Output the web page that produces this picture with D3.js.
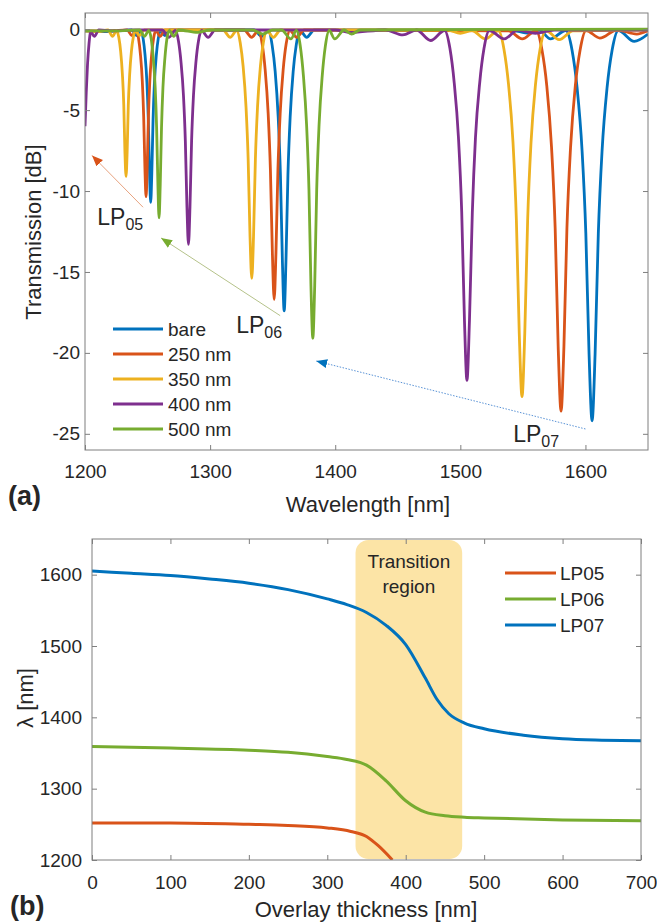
<!DOCTYPE html>
<html lang="en">
<head>
<meta charset="UTF-8">
<title>LPG spectra and resonance shift</title>
<style>
  body { margin: 0; background: #fff; }
  text { font-family: "Liberation Sans", Arial, sans-serif; fill: #262626; }
</style>
</head>
<body>
<svg id="svg" width="657" height="923"></svg>
<script src="https://d3js.org/d3.v7.min.js"></script>
<script>
// ---------- DATA ----------
// panel (a): transmission spectra, [wavelength nm, dB]
const bare = [
  [1200,-0.1],[1215,-0.15],[1237.5,-0.05],[1241.2,-0.4],[1244.6,-0.08],[1246.5,-0.6],[1248.0,-1.6],[1249.5,-3.3],[1250.6,-5.6],[1251.6,-8.9],[1252.5,-10.7],[1253.4,-8.9],[1254.4,-5.6],[1255.5,-3.3],[1257.0,-1.6],[1258.5,-0.6],[1260.4,-0.08],[1263.8,-0.4],[1267.5,-0.05],
  [1335.2,-0.05],[1341.2,-0.45],[1346.6,-0.08],[1349.6,-1.0],[1352.0,-2.6],[1354.4,-5.4],[1356.2,-9.0],[1357.8,-14.4],[1359.2,-17.4],[1360.6,-14.4],[1362.2,-9.0],[1364.0,-5.4],[1366.4,-2.6],[1368.8,-1.0],[1371.8,-0.08],[1377.2,-0.5],[1383.2,-0.05],
  [1540,-0.05],[1555,-0.25],[1563,-0.05],[1572,-0.6],[1584.3,-0.08],[1589.3,-1.3],[1593.3,-3.6],[1597.3,-7.5],[1600.3,-12.6],[1602.9,-20.1],[1605.3,-24.2],[1607.7,-20.1],[1610.3,-12.6],[1613.3,-7.5],[1617.3,-3.6],[1621.3,-1.3],[1626.3,-0.08],[1639,-0.75],[1650,-0.3]
]
const nm250 = [
  [1200,-0.1],[1220,-0.1],[1233.8,-0.05],[1237.5,-0.4],[1240.9,-0.08],[1242.8,-0.57],[1244.3,-1.55],[1245.8,-3.2],[1246.9,-5.4],[1247.9,-8.6],[1248.8,-10.35],[1249.7,-8.6],[1250.7,-5.4],[1251.8,-3.2],[1253.3,-1.55],[1254.8,-0.57],[1256.7,-0.08],[1260.1,-0.45],[1263.8,-0.05],
  [1327.2,-0.05],[1333.2,-0.5],[1338.6,-0.08],[1341.6,-0.9],[1344.0,-2.5],[1346.4,-5.2],[1348.2,-8.7],[1349.8,-13.9],[1351.2,-16.7],[1352.6,-13.9],[1354.2,-8.7],[1356.0,-5.2],[1358.4,-2.5],[1360.8,-0.9],[1363.8,-0.08],[1369.2,-0.5],[1375.2,-0.05],
  [1538.5,-0.1],[1549.5,-0.6],[1560.5,-0.08],[1565.3,-1.3],[1569.1,-3.5],[1572.9,-7.3],[1575.8,-12.3],[1578.2,-19.6],[1580.5,-23.6],[1582.8,-19.6],[1585.2,-12.3],[1588.1,-7.3],[1591.9,-3.5],[1595.7,-1.3],[1600.5,-0.08],[1611.5,-0.55],[1625,-0.05],[1641,-0.3],[1650,-0.1]
]
const nm350 = [
  [1200,-0.1],[1210,-0.15],[1218.4,-0.05],[1222.0,-0.45],[1225.2,-0.08],[1227.0,-0.5],[1228.5,-1.37],[1229.9,-2.8],[1231.0,-4.7],[1231.9,-7.55],[1232.8,-9.1],[1233.7,-7.55],[1234.6,-4.7],[1235.7,-2.8],[1237.1,-1.37],[1238.6,-0.5],[1240.4,-0.08],[1243.6,-0.4],[1247.2,-0.05],
  [1300,-0.05],[1310.3,-0.05],[1316.0,-0.5],[1321.2,-0.08],[1324.1,-0.85],[1326.4,-2.3],[1328.7,-4.8],[1330.4,-8.0],[1331.9,-12.8],[1333.3,-15.4],[1334.7,-12.8],[1336.2,-8.0],[1337.9,-4.8],[1340.2,-2.3],[1342.5,-0.85],[1345.4,-0.08],[1350.6,-0.5],[1356.3,-0.05],
  [1490,-0.05],[1500,-0.25],[1509.3,-0.08],[1520,-0.6],[1530.3,-0.08],[1534.9,-1.25],[1538.5,-3.4],[1542.1,-7.0],[1544.8,-11.8],[1547.1,-18.8],[1549.3,-22.7],[1551.5,-18.8],[1553.8,-11.8],[1556.5,-7.0],[1560.1,-3.4],[1563.7,-1.25],[1568.3,-0.08],[1579,-0.65],[1590,-0.1],[1650,-0.05]
]
const nm400 = [
  [1200,-6.0],[1201,-3.9],[1202,-2.2],[1203.2,-0.9],[1204.6,-0.15],[1207.5,-0.45],[1211,-0.05],[1222,-0.1],[1240,-0.05],
  [1261.7,-0.05],[1267.2,-0.5],[1272.2,-0.08],[1274.7,-0.73],[1276.7,-2.0],[1278.7,-4.1],[1280.2,-6.9],[1281.5,-11.0],[1282.7,-13.3],[1283.9,-11.0],[1285.2,-6.9],[1286.7,-4.1],[1288.7,-2.0],[1290.7,-0.73],[1293.2,-0.08],[1298.4,-0.5],[1304,-0.05],
  [1400,-0.05],[1412,-0.2],[1440,-0.05],[1454,-0.35],[1465,-0.05],[1476.3,-0.7],[1487.4,-0.08],[1491.7,-1.2],[1495.1,-3.3],[1498.5,-6.7],[1501.1,-11.3],[1503.3,-18.0],[1505.3,-21.7],[1507.3,-18.0],[1509.6,-11.3],[1512.1,-6.7],[1515.5,-3.3],[1518.9,-1.2],[1523.2,-0.08],[1535,-0.6],[1546,-0.05],[1560,-0.25],[1575,-0.05],[1650,-0.05]
]
const nm500 = [
  [1200,-0.1],[1225,-0.1],[1243.6,-0.05],[1247.5,-0.45],[1251.0,-0.08],[1253.0,-0.64],[1254.5,-1.75],[1256.1,-3.6],[1257.25,-6.1],[1258.3,-9.7],[1259.2,-11.65],[1260.1,-9.7],[1261.15,-6.1],[1262.3,-3.6],[1263.9,-1.75],[1265.4,-0.64],[1267.4,-0.08],[1270.9,-0.45],[1274.8,-0.05],[1290,-0.2],[1300,-0.05],
  [1334,-0.05],[1342,-0.3],[1350,-0.05],[1357.1,-0.05],[1364.6,-0.6],[1369.0,-0.08],[1372.1,-1.05],[1374.6,-2.9],[1377.1,-5.9],[1379.0,-9.9],[1380.6,-15.85],[1382.1,-19.1],[1383.6,-15.85],[1385.2,-9.9],[1387.1,-5.9],[1389.6,-2.9],[1392.1,-1.05],[1395.2,-0.08],[1399.6,-0.6],[1407.1,-0.05],[1413,-0.3],[1420,-0.05],[1650,0]
]
const spectraNames = ['bare', '250 nm', '350 nm', '400 nm', '500 nm']
const spectraValues = [bare, nm250, nm350, nm400, nm500]
const spectraColors = ['#0072BD', '#D95319', '#EDB120', '#7E2F8E', '#77AC30']
const wlTicks = [1200, 1300, 1400, 1500, 1600]
const dbTicks = [0, -5, -10, -15, -20, -25]

// panel (b): resonance wavelength vs overlay thickness, [thickness nm, lambda nm]
const lp05 = [[0,1252],[100,1252],[200,1250],[250,1248.5],[300,1245],[330,1240],[350,1233],[365,1220],[383,1200]]
const lp06 = [[0,1359],[100,1357],[200,1354],[250,1351],[300,1345],[325,1341],[350,1333],[375,1311],[400,1283],[425,1267],[450,1262],[475,1260],[500,1259],[600,1256],[700,1255]]
const lp07 = [[0,1605],[50,1602],[100,1599],[150,1594],[200,1588],[250,1579],[300,1566],[325,1558],[350,1547],[375,1529],[400,1502],[425,1455],[440,1425],[455,1405],[475,1392],[500,1384],[550,1375],[600,1370],[650,1368],[700,1367]]
const modeNames = ['LP05', 'LP06', 'LP07']
const modeValues = [lp05, lp06, lp07]
const modeColors = ['#D95319', '#77AC30', '#0072BD']
const transitionRange = [336, 472]
const thickTicks = [0, 100, 200, 300, 400, 500, 600, 700]
const lambdaTicks = [1200, 1300, 1400, 1500, 1600]

// ---------- LAYOUT ----------
const axisGray = '#7f7f7f'
const boxA = { left: 85, top: 13, right: 648, bottom: 450 }
const boxB = { left: 92, top: 539, right: 641, bottom: 860 }

const svg = d3.select('#svg')

function drawFrame(g, box, x, y, xTicks, yTicks, xPad, yPad) {
  const w = box.right - box.left, h = box.bottom - box.top
  const fmt = d => String(d)
  g.append('g').attr('transform', `translate(0,${h})`)
    .call(d3.axisBottom(x).tickValues(xTicks).tickSize(-5).tickPadding(xPad).tickFormat(fmt))
  g.append('g')
    .call(d3.axisLeft(y).tickValues(yTicks).tickSize(-5).tickPadding(yPad).tickFormat(fmt))
  g.append('g')
    .call(d3.axisTop(x).tickValues(xTicks).tickSize(-5).tickFormat(''))
  g.append('g').attr('transform', `translate(${w},0)`)
    .call(d3.axisRight(y).tickValues(yTicks).tickSize(-5).tickFormat(''))
  g.selectAll('.domain').remove()
  g.selectAll('.tick line').attr('stroke', axisGray)
  g.selectAll('.tick text').style('font-size', '19px').attr('fill', '#262626')
  g.append('rect').attr('width', w).attr('height', h)
    .attr('fill', 'none').attr('stroke', axisGray).attr('stroke-width', 1)
}

// ================= PANEL (a) =================
const gA = svg.append('g').attr('transform', `translate(${boxA.left},${boxA.top})`)
const xA = d3.scaleLinear().domain([1200, 1650]).range([0, boxA.right - boxA.left])
const yA = d3.scaleLinear().domain([-26, 1]).range([boxA.bottom - boxA.top, 0])

gA.append('clipPath').attr('id', 'clipA').append('rect')
  .attr('width', boxA.right - boxA.left).attr('height', boxA.bottom - boxA.top)

const lineA = d3.line().x(d => xA(d[0])).y(d => yA(d[1])).curve(d3.curveMonotoneX)
gA.append('g').attr('clip-path', 'url(#clipA)')
  .selectAll('path')
  .data(spectraValues)
  .enter()
  .append('path')
  .attr('d', d => lineA(d3.sort(d, p => p[0])))
  .attr('fill', 'none')
  .attr('stroke', (d, i) => spectraColors[i])
  .attr('stroke-width', 2.8)
  .attr('stroke-linejoin', 'round')

drawFrame(gA, boxA, xA, yA, wlTicks, dbTicks, 15, 5)

// legend (a)
const legA = gA.append('g').attr('transform', `translate(${113 - boxA.left},${329 - boxA.top})`)
spectraNames.forEach((name, i) => {
  legA.append('line').attr('x1', 0).attr('x2', 50).attr('y1', i * 25).attr('y2', i * 25)
    .attr('stroke', spectraColors[i]).attr('stroke-width', 3)
  legA.append('text').attr('x', 55).attr('y', i * 25).attr('dy', '0.35em')
    .style('font-size', '19px').text(name)
})

// arrows (a)
const defs = svg.append('defs')
function marker(id, color) {
  defs.append('marker').attr('id', id)
    .attr('viewBox', '0 -5 12 10').attr('refX', 11).attr('refY', 0)
    .attr('markerWidth', 12).attr('markerHeight', 10)
    .attr('markerUnits', 'userSpaceOnUse').attr('orient', 'auto')
    .append('path').attr('d', 'M0,-4.5L11,0L0,4.5Z').attr('fill', color)
}
marker('headO', '#D95319')
marker('headG', '#77AC30')
marker('headB', '#0072BD')
const arrows = [
  { from: [1246.4, -11.0], to: [1205.6, -7.8], color: '#E8A37F', head: 'headO', dash: null },
  { from: [1356.0, -17.7], to: [1260.8, -12.9], color: '#B5C28A', head: 'headG', dash: null },
  { from: [1600.0, -24.7], to: [1384.8, -20.5], color: '#5A93D6', head: 'headB', dash: '1.5,1.5' }
]
arrows.forEach(a => {
  gA.append('line')
    .attr('x1', xA(a.from[0])).attr('y1', yA(a.from[1]))
    .attr('x2', xA(a.to[0])).attr('y2', yA(a.to[1]))
    .attr('stroke', a.color).attr('stroke-width', 1)
    .attr('stroke-dasharray', a.dash)
    .attr('marker-end', `url(#${a.head})`)
})

// mode labels (a)
const modeLabels = [
  { main: 'LP', sub: '05', at: [1209.8, -12.1] },
  { main: 'LP', sub: '06', at: [1320.8, -18.8] },
  { main: 'LP', sub: '07', at: [1542.2, -25.5] }
]
modeLabels.forEach(m => {
  const t = gA.append('text').attr('x', xA(m.at[0])).attr('y', yA(m.at[1]))
    .style('font-size', '23px').attr('fill', '#111')
  t.append('tspan').text(m.main)
  t.append('tspan').attr('dy', 5).style('font-size', '16px').text(m.sub)
})

// titles (a)
svg.append('text').attr('transform', 'translate(41,232) rotate(-90)')
  .attr('text-anchor', 'middle').style('font-size', '22px').text('Transmission [dB]')
svg.append('text').attr('x', 368).attr('y', 512)
  .attr('text-anchor', 'middle').style('font-size', '22px').text('Wavelength [nm]')
svg.append('text').attr('x', 8).attr('y', 505)
  .style('font-size', '27px').style('font-weight', 'bold').attr('fill', '#000').text('(a)')

// ================= PANEL (b) =================
const gB = svg.append('g').attr('transform', `translate(${boxB.left},${boxB.top})`)
const xB = d3.scaleLinear().domain([0, 700]).range([0, boxB.right - boxB.left])
const yB = d3.scaleLinear().domain([1200, 1650]).range([boxB.bottom - boxB.top, 0])

gB.append('clipPath').attr('id', 'clipB').append('rect')
  .attr('width', boxB.right - boxB.left).attr('height', boxB.bottom - boxB.top)

// transition region
gB.append('rect')
  .attr('x', xB(transitionRange[0])).attr('width', xB(transitionRange[1]) - xB(transitionRange[0]))
  .attr('y', 1).attr('height', boxB.bottom - boxB.top - 2)
  .attr('rx', 13).attr('fill', '#FCE4A6')
gB.append('text').attr('x', xB(404)).attr('y', 29).attr('text-anchor', 'middle')
  .style('font-size', '19px').text('Transition')
gB.append('text').attr('x', xB(404)).attr('y', 54).attr('text-anchor', 'middle')
  .style('font-size', '19px').text('region')

const lineB = d3.line().x(d => xB(d[0])).y(d => yB(d[1])).curve(d3.curveMonotoneX)
gB.append('g').attr('clip-path', 'url(#clipB)')
  .selectAll('path')
  .data(modeValues)
  .enter()
  .append('path')
  .attr('d', d => lineB(d))
  .attr('fill', 'none')
  .attr('stroke', (d, i) => modeColors[i])
  .attr('stroke-width', 3)

drawFrame(gB, boxB, xB, yB, thickTicks, lambdaTicks, 16, 10)

// legend (b)
const legB = gB.append('g').attr('transform', `translate(${505 - boxB.left},${573 - boxB.top})`)
modeNames.forEach((name, i) => {
  legB.append('line').attr('x1', 0).attr('x2', 51).attr('y1', i * 26).attr('y2', i * 26)
    .attr('stroke', modeColors[i]).attr('stroke-width', 3)
  legB.append('text').attr('x', 55).attr('y', i * 26).attr('dy', '0.35em')
    .style('font-size', '19px').text(name)
})

// titles (b)
svg.append('text').attr('transform', 'translate(33,698) rotate(-90)')
  .attr('text-anchor', 'middle').style('font-size', '22px').text('λ [nm]')
svg.append('text').attr('x', 366).attr('y', 917)
  .attr('text-anchor', 'middle').style('font-size', '22px').text('Overlay thickness [nm]')
svg.append('text').attr('x', 10).attr('y', 915)
  .style('font-size', '27px').style('font-weight', 'bold').attr('fill', '#000').text('(b)')
</script>
</body>
</html>
